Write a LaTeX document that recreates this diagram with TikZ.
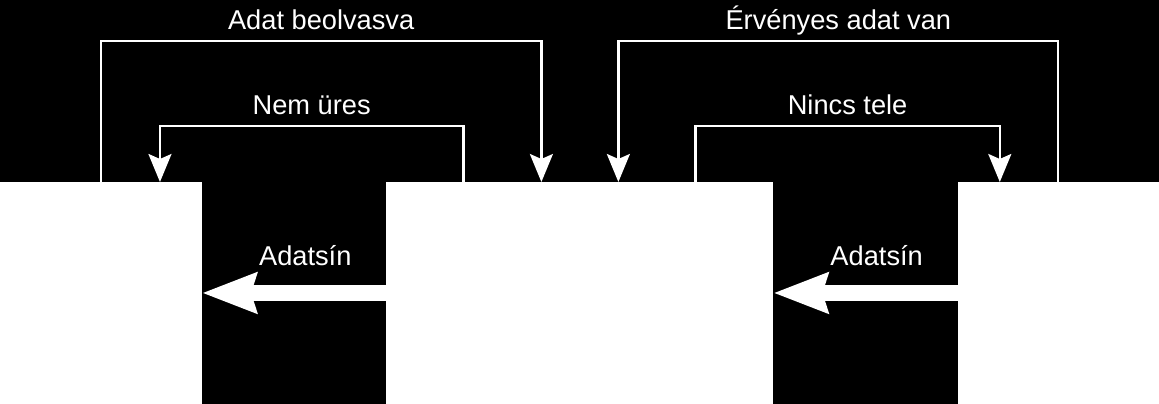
\documentclass[tikz,border=0pt]{standalone}
\usepackage{fontspec}
\setmainfont{Liberation Sans}
\usetikzlibrary{positioning,arrows.meta}

\begin{document}
\begin{tikzpicture}[
    x=0.02cm, y=-0.02cm,
    font=\fontsize{15.5}{18}\selectfont,
    node distance = 3.69cm,
    unit/.style  = {fill=white, draw=none, minimum width=#1, minimum height=4.44cm,
                    inner sep=0pt, outer sep=0pt},
    sig/.style   = {draw=white, line width=1.3pt,
                    -{Stealth[length=5.6mm, width=4.6mm, inset=1mm]}},
    bus/.style   = {draw=white, line width=3.1mm,
                    -{Stealth[length=10.8mm, width=7.8mm, inset=1mm]}},
    lbl/.style   = {text=white, anchor=base, inner sep=0pt, yshift=#1},
    lbl/.default = 2.3mm,
]

%============================ BACKGROUND ============================
\fill[black] (0,0) rectangle (1159,404);
\useasboundingbox (0,0) rectangle (1159,404);

%============================ UNITS =================================
\node[unit=4.04cm, anchor=north west] (src) at (0,182) {};
\node[unit=7.74cm, right=of src]  (fifo) {};
\node[unit=4.02cm, right=of fifo] (dst)  {};

% --- rails for the handshake lines
\coordinate (topA) at (0,41);
\coordinate (topB) at (0,126);

\coordinate (rdL) at ([xshift=-7.7mm]fifo.north);
\coordinate (vdR) at ([xshift=7.7mm]fifo.north);
\coordinate (neL) at ([xshift=15.4mm]fifo.north west);
\coordinate (ntR) at ([xshift=-15.6mm]fifo.north east);
\coordinate (neS) at ([xshift=-8.4mm]src.north east);
\coordinate (ntD) at ([xshift=8.4mm]dst.north west);

%============================ HANDSHAKE =============================
\draw[sig] (src.north) -- (src.north |- topA)
      -- node[lbl] {Adat beolvasva} (rdL |- topA) -- (rdL);
\draw[sig] (neL) -- (neL |- topB)
      -- node[lbl] {Nem üres} (neS |- topB) -- (neS);
\draw[sig] (dst.north) -- (dst.north |- topA)
      -- node[lbl] {Érvényes adat van} (vdR |- topA) -- (vdR);
\draw[sig] (ntR) -- (ntR |- topB)
      -- node[lbl] {Nincs tele} (ntD |- topB) -- (ntD);

%============================ DATA BUS ==============================
\draw[bus] (fifo.west) -- node[lbl=5.4mm, pos=0.44] {Adatsín} (src.east);
\draw[bus] (dst.west)  -- node[lbl=5.4mm, pos=0.44] {Adatsín} (fifo.east);

\end{tikzpicture}
\end{document}
